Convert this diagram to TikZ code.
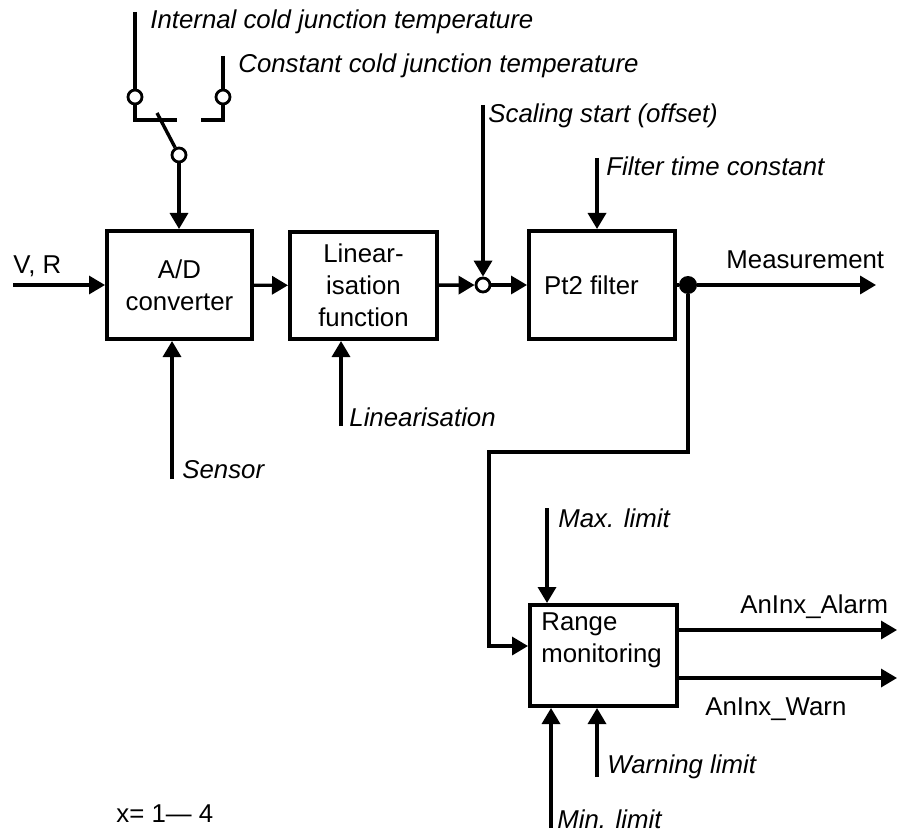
\documentclass[tikz,border=0pt]{standalone}
\usepackage{fontspec}
\setmainfont{Liberation Sans}
\usetikzlibrary{arrows.meta,positioning}

\begin{document}
\fontsize{12.9}{16}\selectfont
\begin{tikzpicture}[x=0.5pt, y=-0.5pt, >={Triangle[length=8pt,width=9pt]},
  block/.style={draw, line width=2pt, inner sep=0pt, align=center},
  sig/.style={line width=1.7pt},
  lab/.style={anchor=base west, inner sep=0pt, font=\itshape},
  txt/.style={anchor=base west, inner sep=0pt},
  term/.style={circle, draw, fill=white, line width=1.4pt, minimum size=7pt, inner sep=0pt}]
  \useasboundingbox (0,0) rectangle (898,834);

  % blocks
  \node[block, minimum width=72.5pt, minimum height=54pt] (ad) at (179.5,285) {A/D\\converter};
  \node[block, minimum width=73.5pt, minimum height=53.5pt] (lin) at (363.5,285.5) {Linear-\\isation\\function};
  \node[block, minimum width=73pt, minimum height=54pt] (pt2) at (602,285) {Pt2 filter\hspace*{10.5pt}};
  \node[block, minimum width=73.5pt, minimum height=50.5pt] (rng) at (603.5,655.5) {};
  \node[anchor=north west, align=left, inner sep=0pt] (rngtxt) at ([shift={(6.5pt,-4.5pt)}]rng.north west) {Range\\monitoring};

  % cold junction switch
  \node[term] (tint) at (135,97) {};
  \node[term] (tcon) at (223,97) {};
  \node[term] (tsw) at (179,155) {};
  \coordinate (intTop) at (135,12);
  \coordinate (conTop) at (223,56);
  \coordinate (bl) at (177,120);
  \coordinate (br) at (201,120);
  \coordinate (blade) at (157,113);
  \draw[sig] (intTop) -- (tint);
  \draw[sig] (conTop) -- (tcon);
  \draw[line width=2pt] (tint) |- (bl);
  \draw[line width=2pt] (tcon) |- (br);
  \draw[sig] (blade) -- (tsw);
  \draw[sig,->] (tsw) -- (tsw |- ad.north);
  \node[lab] (intlab) at (150,29) {Internal cold junction temperature};
  \node[lab] (conlab) at (238,73) {Constant cold junction temperature};

  % inputs
  \coordinate (vrIn) at (13,285);
  \draw[sig,->] (vrIn) -- (ad.west);
  \node[txt] (vrlab) at (13,273) {V, R};
  \coordinate (sensIn) at (172,479);
  \draw[sig,->] (sensIn) -- (sensIn |- ad.south);
  \node[lab] (senslab) at (182,478) {Sensor};

  \draw[sig,->] (ad) -- (lin);
  \coordinate (linIn) at (341,426);
  \draw[sig,->] (linIn) -- (linIn |- lin.south);
  \node[lab] (linlab) at (349,426) {Linearisation};

  % offset and filter
  \node[term] (sum) at (483,285) {};
  \draw[sig,->] (lin) -- (sum);
  \draw[sig,->] (sum) -- (pt2);
  \coordinate (offIn) at (483,105);
  \draw[sig,->] (offIn) -- (sum);
  \node[lab] (offlab) at (488,123) {Scaling start (offset)};
  \coordinate (ftIn) at (597,158);
  \draw[sig,->] (ftIn) -- (ftIn |- pt2.north);
  \node[lab] (ftlab) at (606,176) {Filter time constant};

  % measurement output
  \node[circle, fill, minimum size=9pt, inner sep=0pt] (meas) at (688,285) {};
  \coordinate (measOut) at (876,285);
  \draw[sig] (pt2) -- (meas);
  \draw[sig,->] (meas) -- (measOut);
  \node[txt] (measlab) at (726,268) {Measurement};

  % range monitoring
  \coordinate (turn) at (489,452);
  \draw[sig,->] (meas) |- (turn) |- ([yshift=4.75pt]rng.west);
  \coordinate (maxIn) at (547,508);
  \draw[sig,->] (maxIn) -- (maxIn |- rng.north);
  \node[lab] (maxlab) at (558,527) {Max. limit};
  \coordinate (minIn) at (551,828);
  \draw[sig,->] (minIn) -- (minIn |- rng.south);
  \node[lab] (minlab) at (557,828) {Min. limit};
  \coordinate (warnIn) at (597,777);
  \draw[sig,->] (warnIn) -- (warnIn |- rng.south);
  \node[lab] (warnlab) at (607,773) {Warning limit};

  \coordinate (alarmOut) at (897,630);
  \coordinate (warnOut) at (897,678);
  \draw[sig,->] (alarmOut -| rng.east) -- (alarmOut);
  \draw[sig,->] (warnOut -| rng.east) -- (warnOut);
  \node[txt] (alarmlab) at (740,613) {AnInx\_Alarm};
  \node[txt] (warnOutlab) at (705,715) {AnInx\_Warn};

  \node[txt] (xlab) at (116,822) {x= 1— 4};
\end{tikzpicture}
\end{document}
